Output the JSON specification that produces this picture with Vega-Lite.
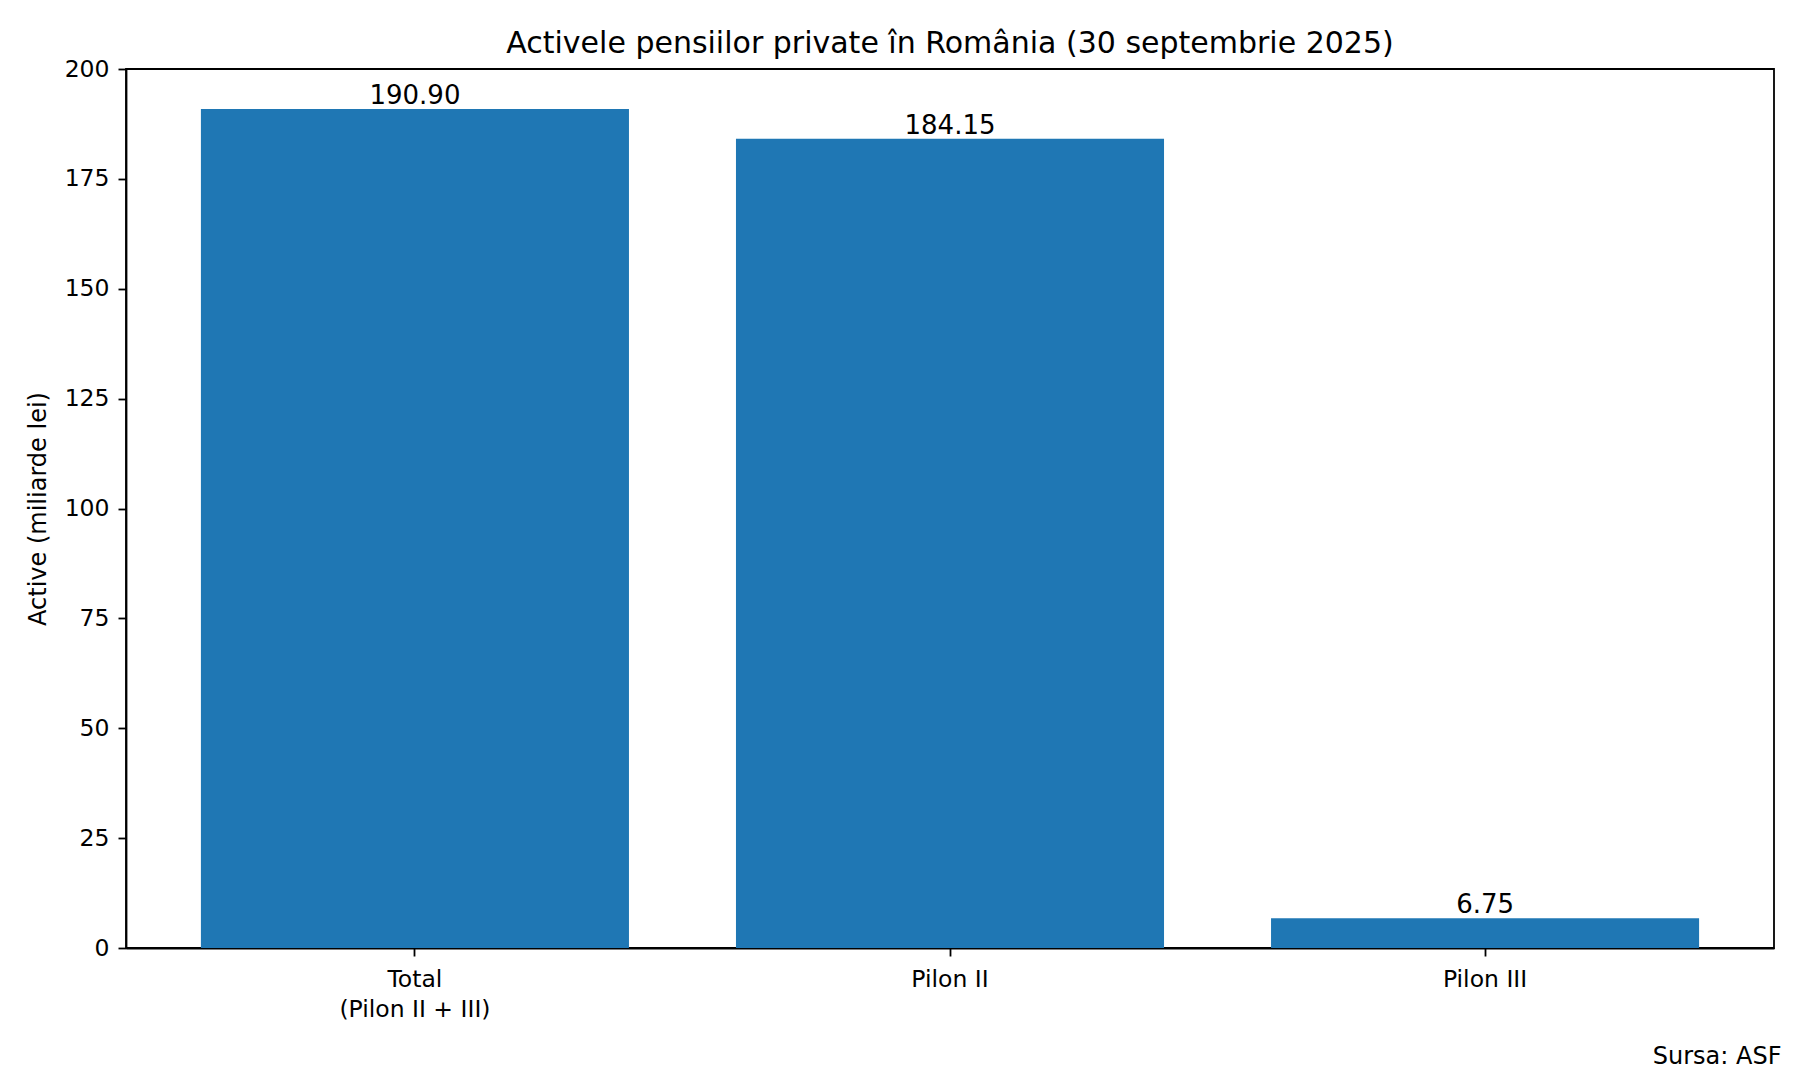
{
  "$schema": "https://vega.github.io/schema/vega-lite/v6.json",
  "autosize": {"type": "none"},
  "padding": {"left": 126, "top": 69, "right": 26, "bottom": 132},
  "width": 1648,
  "height": 879,
  "background": "white",
  "title": {
    "text": "Activele pensiilor private în România (30 septembrie 2025)",
    "font": "DejaVu Sans",
    "fontSize": 30,
    "fontWeight": "normal",
    "color": "black",
    "anchor": "middle",
    "baseline": "alphabetic",
    "offset": -26
  },
  "config": {
    "font": "DejaVu Sans",
    "view": {"stroke": "black", "strokeWidth": 1.8},
    "axis": {
      "labelFont": "DejaVu Sans",
      "titleFont": "DejaVu Sans",
      "labelColor": "black",
      "titleColor": "black",
      "domainColor": "black",
      "tickColor": "black",
      "domainWidth": 1.8,
      "tickWidth": 1.8,
      "tickSize": 8,
      "labelFontSize": 23.5,
      "titleFontSize": 24,
      "titleFontWeight": "normal",
      "grid": false
    }
  },
  "data": {
    "values": [
      {"categorie": "Total\n(Pilon II + III)", "active": 190.90},
      {"categorie": "Pilon II", "active": 184.15},
      {"categorie": "Pilon III", "active": 6.75}
    ]
  },
  "encoding": {
    "x": {
      "field": "categorie",
      "type": "nominal",
      "sort": null,
      "scale": {"paddingInner": 0.2, "paddingOuter": 0.14},
      "axis": {
        "title": "Sursa: ASF",
        "titleAnchor": "end",
        "titleAlign": "right",
        "titleBaseline": "alphabetic",
        "titleX": 1655,
        "titleY": 115,
        "labelAngle": 0,
        "labelPadding": 11,
        "labelLineHeight": 30,
        "labelBaseline": "top",
        "labelExpr": "split(datum.label, '\\n')"
      }
    },
    "y": {
      "field": "active",
      "type": "quantitative",
      "scale": {"domain": [0, 200], "nice": false},
      "axis": {
        "title": "Active (miliarde lei)",
        "values": [0, 25, 50, 75, 100, 125, 150, 175, 200],
        "labelPadding": 9,
        "titlePadding": 14
      }
    }
  },
  "layer": [
    {"mark": {"type": "bar", "color": "#1f77b4"}},
    {
      "mark": {
        "type": "text",
        "font": "DejaVu Sans",
        "fontSize": 26,
        "color": "black",
        "baseline": "alphabetic",
        "dy": -5
      },
      "encoding": {
        "text": {"field": "active", "type": "quantitative", "format": ".2f"}
      }
    }
  ]
}
